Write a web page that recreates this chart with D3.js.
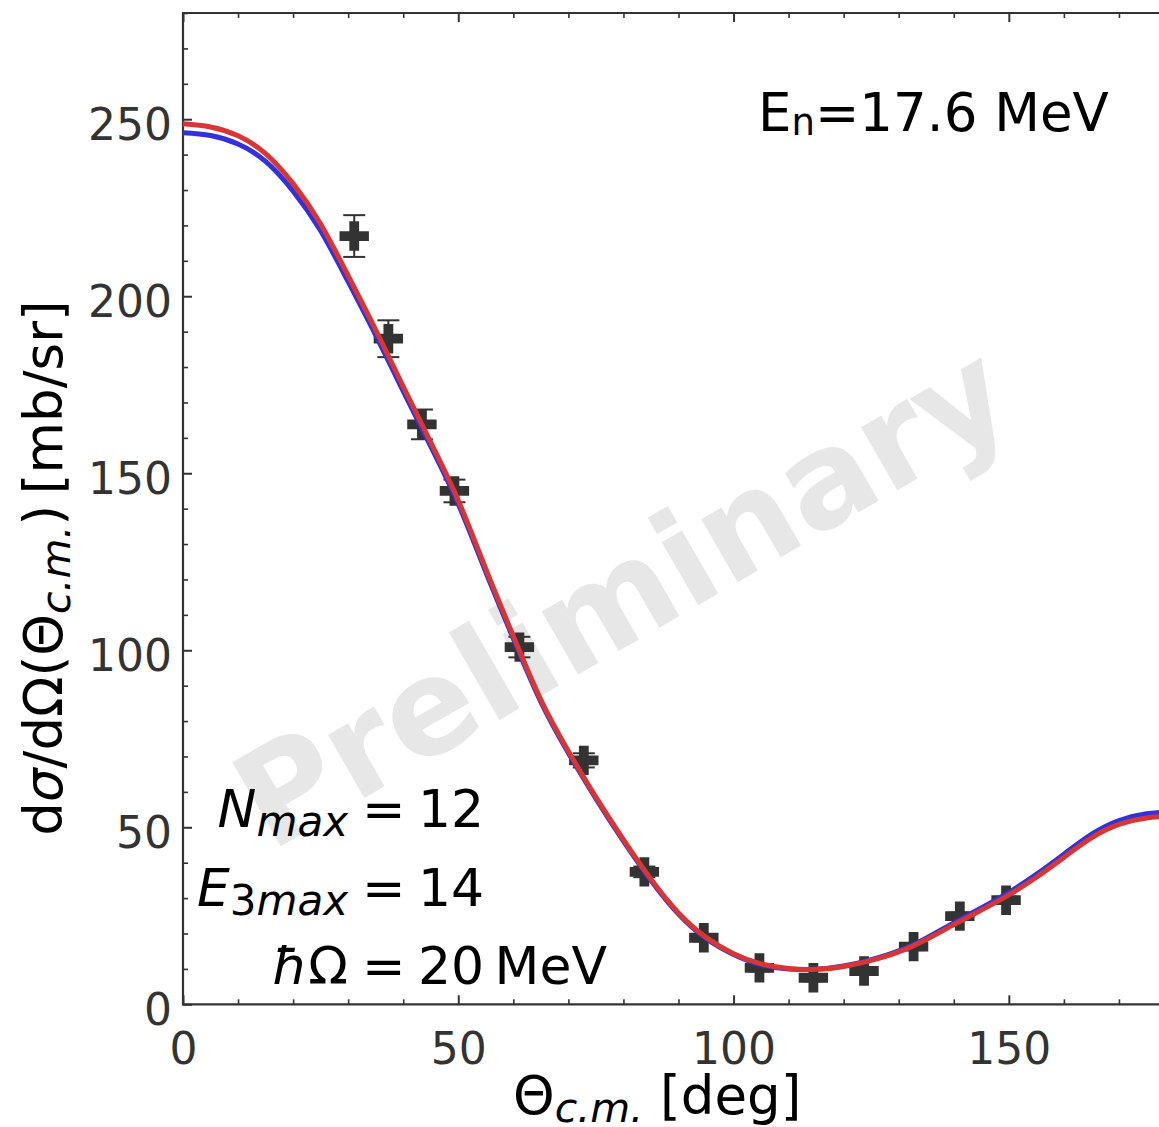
<!DOCTYPE html>
<html>
<head>
<meta charset="utf-8">
<script src="https://cdn.jsdelivr.net/npm/d3@7"></script>
<style>
  body { margin: 0; background: #fff; }
  svg { display: block; }
  text { font-family: "DejaVu Sans", sans-serif; }
</style>
</head>
<body>
<svg id="chart" width="1159" height="1127"></svg>
<script>
// Scattering angle grid (deg) for the two calculated curves
const angleGrid = [0,5,10,15,20,25,30,35,40,45,50,55,60,65,70,75,80,85,90,
                   95,100,105,110,115,120,125,130,135,140,145,150,155,160,165,170,175,180];
// Calculated cross sections (mb/sr)
const redCurve = [248.7,247.8,245.3,240.3,231.8,220.4,205.8,190.5,174.5,158.7,142.3,123.0,104.0,86.0,71.5,58.5,46.5,35.3,25.8,
                  18.9,14.3,11.4,10.1,9.9,10.7,12.4,14.8,18.3,22.5,26.6,30.9,35.9,41.5,47.0,50.8,52.6,53.2];
const blueCurve = [246.2,245.4,243.0,238.1,229.7,218.5,204.1,189.0,173.2,157.6,141.3,122.1,103.3,85.4,71.0,58.1,46.1,35.0,25.5,
                   18.6,14.1,11.2,10.0,9.9,10.8,12.6,15.1,18.7,23.0,27.2,31.6,36.7,42.4,48.0,51.9,53.8,54.5];
// Measured points
const dataAngle = [31.1,37.3,43.4,49.3,61.1,72.8,83.8,94.6,104.7,114.5,123.7,132.7,141.1,149.5];
const dataValue = [217.0,188.0,163.8,145.0,100.9,68.9,37.4,18.8,10.3,7.5,9.4,16.3,24.9,29.4];
const dataError = [5.9,5.2,4.2,3.2,2.9,2.0,1.5,1.0,1.0,1.0,1.0,1.0,1.0,1.0];
// Axis ticks
const xTicks = [0,50,100,150];
const yTicks = [0,50,100,150,200,250];
const xMinor = d3.range(0, 181, 10);
const yMinor = d3.range(0, 281, 10);

const svg = d3.select("#chart");
const plotLeft = 183, plotTop = 13, plotBottom = 1004.3, plotRight = 1174;
const x = d3.scaleLinear().domain([0, 180]).range([plotLeft, plotRight]);
const y = d3.scaleLinear().domain([0, 280]).range([plotBottom, plotTop]);
const axisColor = "#333";

// Watermark
svg.append("text")
  .attr("transform", "translate(622,596) rotate(-30)")
  .attr("text-anchor", "middle")
  .attr("dominant-baseline", "central")
  .attr("font-size", 133)
  .attr("font-weight", "bold")
  .attr("fill", "#e7e7e7")
  .text("Preliminary");

// Axes: inward major and minor ticks on all drawn sides
function styleAxis(g) {
  g.select(".domain").remove();
  g.selectAll(".tick line").attr("stroke", axisColor);
}
const gx = svg.append("g").attr("transform", `translate(0,${plotBottom})`)
  .call(d3.axisBottom(x).tickValues(xTicks).tickSizeInner(-9).tickSizeOuter(0).tickFormat(d3.format("d")));
gx.call(styleAxis);
gx.selectAll(".tick line").attr("stroke-width", 2);
gx.selectAll(".tick text").attr("y", 60).attr("dy", null).attr("font-size", 44).attr("fill", "#333")
  .style("font-family", "DejaVu Sans");
svg.append("g").attr("transform", `translate(0,${plotBottom})`)
  .call(d3.axisBottom(x).tickValues(xMinor.filter(v => v % 50)).tickSizeInner(-5).tickSizeOuter(0).tickFormat(""))
  .call(styleAxis).selectAll(".tick line").attr("stroke-width", 1.6);

const gt = svg.append("g").attr("transform", `translate(0,${plotTop})`)
  .call(d3.axisTop(x).tickValues(xTicks).tickSizeInner(-9).tickSizeOuter(0).tickFormat(""));
gt.call(styleAxis); gt.selectAll(".tick line").attr("stroke-width", 2);
svg.append("g").attr("transform", `translate(0,${plotTop})`)
  .call(d3.axisTop(x).tickValues(xMinor.filter(v => v % 50)).tickSizeInner(-5).tickSizeOuter(0).tickFormat(""))
  .call(styleAxis).selectAll(".tick line").attr("stroke-width", 1.6);

const gy = svg.append("g").attr("transform", `translate(${plotLeft},0)`)
  .call(d3.axisLeft(y).tickValues(yTicks).tickSizeInner(-9).tickSizeOuter(0).tickPadding(11).tickFormat(d3.format("d")));
gy.call(styleAxis);
gy.selectAll(".tick line").attr("stroke-width", 2);
gy.selectAll(".tick text").attr("dy", 20).attr("font-size", 44).attr("fill", "#333")
  .style("font-family", "DejaVu Sans");
svg.append("g").attr("transform", `translate(${plotLeft},0)`)
  .call(d3.axisLeft(y).tickValues(yMinor.filter(v => v % 50)).tickSizeInner(-5).tickSizeOuter(0).tickFormat(""))
  .call(styleAxis).selectAll(".tick line").attr("stroke-width", 1.6);

// Frame (left, bottom, top spines)
svg.append("path")
  .attr("d", `M${plotRight},${plotTop}H${plotLeft}V${plotBottom}H${plotRight}`)
  .attr("fill", "none").attr("stroke", axisColor).attr("stroke-width", 2.2);

// Measured points with error bars
const pts = dataAngle.map((a, i) => ({ a, v: dataValue[i], e: dataError[i] }));
const gp = svg.append("g").attr("fill", "#333").attr("stroke", "#333");
gp.selectAll("line.err").data(pts).join("line").attr("class", "err")
  .attr("x1", d => x(d.a)).attr("x2", d => x(d.a))
  .attr("y1", d => y(d.v - d.e)).attr("y2", d => y(d.v + d.e))
  .attr("stroke-width", 2);
gp.selectAll("line.capTop").data(pts).join("line").attr("class", "capTop")
  .attr("x1", d => x(d.a) - 11).attr("x2", d => x(d.a) + 11)
  .attr("y1", d => y(d.v + d.e)).attr("y2", d => y(d.v + d.e)).attr("stroke-width", 2);
gp.selectAll("line.capBot").data(pts).join("line").attr("class", "capBot")
  .attr("x1", d => x(d.a) - 11).attr("x2", d => x(d.a) + 11)
  .attr("y1", d => y(d.v - d.e)).attr("y2", d => y(d.v - d.e)).attr("stroke-width", 2);
gp.selectAll("path").data(pts).join("path")
  .attr("d", d3.symbol(d3.symbolCross, 480))
  .attr("stroke", "none")
  .attr("transform", d => `translate(${x(d.a)},${y(d.v)})`);

// Calculated curves
const line = d3.line().x(d => x(d[0])).y(d => y(d[1])).curve(d3.curveNatural);
svg.append("path").datum(angleGrid.map((a, i) => [a, blueCurve[i]]))
  .attr("d", line).attr("fill", "none").attr("stroke", "#3232d8").attr("stroke-width", 5);
svg.append("path").datum(angleGrid.map((a, i) => [a, redCurve[i]]))
  .attr("d", line).attr("fill", "none").attr("stroke", "#d83636").attr("stroke-width", 5);

// Energy label
const en = svg.append("text").attr("x", 758).attr("y", 131).attr("font-size", 53).attr("fill", "#000");
en.append("tspan").text("E");
en.append("tspan").attr("font-size", 37).attr("dy", 4).text("n");
en.append("tspan").attr("dy", -4).text("=17.6 MeV");

// Model-space parameters
function paramLine(baseline, build, value) {
  const t = svg.append("text").attr("x", 348).attr("y", baseline).attr("font-size", 52)
    .attr("text-anchor", "end").attr("fill", "#000");
  build(t);
  svg.append("text").attr("x", 362).attr("y", baseline).attr("font-size", 52).attr("fill", "#000").text("=");
  svg.append("text").attr("x", 418).attr("y", baseline).attr("font-size", 52).attr("fill", "#000").text(value);
}
paramLine(827, t => {
  t.append("tspan").attr("font-style", "italic").text("N");
  t.append("tspan").attr("font-style", "italic").attr("font-size", 42).attr("dy", 9).text("max");
}, "12");
paramLine(906, t => {
  t.append("tspan").attr("font-style", "italic").text("E");
  t.append("tspan").attr("font-size", 42).attr("dy", 9).text("3");
  t.append("tspan").attr("font-style", "italic").attr("font-size", 42).text("max");
}, "14");
paramLine(984, t => {
  t.append("tspan").attr("font-style", "italic").text("ħ");
  t.append("tspan").text("Ω");
}, "20\u2009MeV");

// Axis titles
const xl = svg.append("text").attr("x", 513).attr("y", 1114).attr("font-size", 53).attr("fill", "#000");
xl.append("tspan").text("Θ");
xl.append("tspan").attr("font-style", "italic").attr("font-size", 41).attr("dy", 8).text("c.m.");
xl.append("tspan").attr("dy", -8).text(" [deg]");

const yl = svg.append("text").attr("transform", "translate(62,568) rotate(-90)")
  .attr("text-anchor", "middle").attr("font-size", 53).attr("fill", "#000");
yl.append("tspan").text("d");
yl.append("tspan").attr("font-style", "italic").text("σ");
yl.append("tspan").text("/dΩ(Θ");
yl.append("tspan").attr("font-style", "italic").attr("font-size", 41).attr("dy", 8).text("c.m.");
yl.append("tspan").attr("dy", -8).text(")\u2009[mb/sr]");
</script>
</body>
</html>
